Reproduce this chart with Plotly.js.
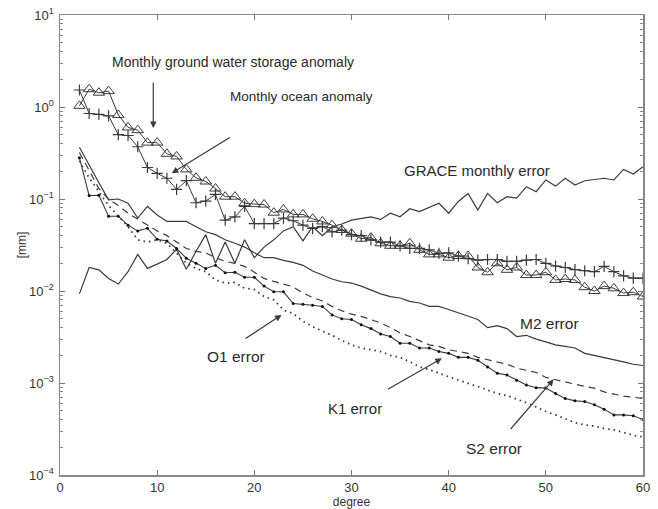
<!DOCTYPE html>
<html>
<head>
<meta charset="utf-8">
<script src="https://cdn.plot.ly/plotly-3.0.1.min.js"></script>
<style>
  html, body { margin: 0; padding: 0; background: #fff; }
  #chart { width: 658px; height: 509px; }
</style>
</head>
<body>
<div id="chart"></div>
<script>
// Spherical harmonic degree 2..60
const degree = [];
for (let n = 2; n <= 60; n++) degree.push(n);

// Degree amplitudes [mm]
const groundWater = [1.03, 1.56, 1.43, 1.49, 0.82, 0.60, 0.56, 0.41, 0.41, 0.31,
  0.29, 0.21, 0.17, 0.155, 0.13, 0.106, 0.106, 0.09, 0.088, 0.087,
  0.071, 0.077, 0.068, 0.068, 0.061, 0.057, 0.052, 0.046, 0.042, 0.037,
  0.038, 0.033, 0.031, 0.031, 0.033, 0.028, 0.025, 0.025, 0.023, 0.024,
  0.024, 0.018, 0.016, 0.020, 0.017, 0.018, 0.0149, 0.0149, 0.016, 0.0132,
  0.0135, 0.0132, 0.011, 0.010, 0.0113, 0.0107, 0.0095, 0.0097, 0.0087];

const ocean = [1.53, 0.85, 0.83, 0.80, 0.50, 0.49, 0.37, 0.22, 0.19, 0.168,
  0.127, 0.158, 0.091, 0.095, 0.112, 0.059, 0.064, 0.083, 0.054, 0.054,
  0.054, 0.062, 0.058, 0.052, 0.048, 0.050, 0.044, 0.046, 0.041, 0.040,
  0.036, 0.034, 0.034, 0.031, 0.029, 0.029, 0.028, 0.0257, 0.026, 0.024,
  0.0225, 0.0217, 0.022, 0.022, 0.021, 0.021, 0.0217, 0.022, 0.020, 0.0187,
  0.018, 0.0171, 0.0166, 0.0162, 0.0185, 0.0162, 0.0146, 0.0138, 0.0138];

const grace = [0.0093, 0.018, 0.017, 0.0137, 0.0119, 0.0162, 0.025, 0.0176, 0.0196, 0.022,
  0.0284, 0.0172, 0.027, 0.041, 0.020, 0.034, 0.020, 0.036, 0.023, 0.030,
  0.036, 0.045, 0.050, 0.035, 0.050, 0.040, 0.050, 0.0535, 0.059, 0.062,
  0.064, 0.060, 0.070, 0.064, 0.0785, 0.073, 0.081, 0.090, 0.070, 0.094,
  0.115, 0.076, 0.115, 0.091, 0.106, 0.102, 0.136, 0.12, 0.161, 0.138,
  0.168, 0.142, 0.158, 0.164, 0.168, 0.161, 0.21, 0.187, 0.224];

const m2 = [0.365, 0.23, 0.15, 0.098, 0.10, 0.09, 0.062, 0.083, 0.067, 0.057,
  0.057, 0.057, 0.050, 0.044, 0.041, 0.036, 0.033, 0.030, 0.026, 0.023,
  0.023, 0.0215, 0.0205, 0.019, 0.0165, 0.0148, 0.0135, 0.0126, 0.0122, 0.0113,
  0.0103, 0.0093, 0.0087, 0.0084, 0.0077, 0.0074, 0.0068, 0.0068, 0.0063, 0.0058,
  0.0053, 0.0049, 0.0040, 0.0042, 0.0039, 0.0032, 0.0033, 0.0030, 0.0028, 0.0026,
  0.0025, 0.0024, 0.0021, 0.0020, 0.0019, 0.0018, 0.0017, 0.0016, 0.00155];

const s2 = [0.32, 0.2, 0.13, 0.1, 0.085, 0.07, 0.06, 0.052, 0.045, 0.040,
  0.034, 0.029, 0.027, 0.026, 0.023, 0.021, 0.020, 0.0185, 0.016, 0.0137,
  0.0127, 0.0118, 0.0111, 0.0095, 0.0085, 0.0078, 0.0068, 0.0061, 0.0056, 0.0053,
  0.0049, 0.0045, 0.0040, 0.0035, 0.0032, 0.0029, 0.0026, 0.0025, 0.0023, 0.0022,
  0.0021, 0.0019, 0.0018, 0.0017, 0.0016, 0.00145, 0.00138, 0.0013, 0.00115, 0.00108,
  0.00103, 0.00097, 0.00092, 0.00088, 0.0008, 0.00076, 0.00072, 0.0007, 0.00068];

const k1 = [0.28, 0.109, 0.11, 0.065, 0.065, 0.052, 0.045, 0.048, 0.0365, 0.035,
  0.029, 0.0227, 0.020, 0.0176, 0.019, 0.0158, 0.016, 0.0141, 0.0141, 0.0113,
  0.0098, 0.0098, 0.0073, 0.0072, 0.0070, 0.0068, 0.0055, 0.0050, 0.0049, 0.0043,
  0.0039, 0.0034, 0.0032, 0.0027, 0.0027, 0.0024, 0.0024, 0.0022, 0.0021, 0.0019,
  0.0019, 0.00177, 0.00149, 0.00128, 0.00122, 0.00107, 0.00095, 0.00089, 0.00088, 0.00077,
  0.00068, 0.00064, 0.00063, 0.00058, 0.00052, 0.00045, 0.00045, 0.00044, 0.0004];

const o1 = [0.26, 0.17, 0.12, 0.085, 0.065, 0.05, 0.036, 0.034, 0.036, 0.033,
  0.0257, 0.020, 0.0176, 0.0162, 0.0132, 0.0122, 0.0124, 0.0107, 0.0104, 0.0087,
  0.0080, 0.0062, 0.0057, 0.0047, 0.0041, 0.0037, 0.0033, 0.0029, 0.0026, 0.0024,
  0.0023, 0.0022, 0.0020, 0.0019, 0.0017, 0.0015, 0.0014, 0.00127, 0.00117, 0.00108,
  0.00099, 0.00091, 0.00084, 0.00077, 0.00073, 0.00067, 0.00061, 0.00055, 0.00049, 0.00045,
  0.00041, 0.00037, 0.00035, 0.00034, 0.00032, 0.00031, 0.00029, 0.00027, 0.00026];

const xTicks = [0, 10, 20, 30, 40, 50, 60];
const yExponents = [-4, -3, -2, -1, 0, 1];

// decade ticks as 10^n with superscript exponents
const yTickVals = yExponents.map(e => Math.pow(10, e));
const yTickText = yExponents.map(e => '10<sup>' + (e < 0 ? '\u2212' + (-e) : e) + '</sup>');
// minor ticks at 2..9 within each decade
const yMinorVals = [];
yExponents.slice(0, -1).forEach(e => {
  for (let k = 2; k <= 9; k++) yMinorVals.push(k * Math.pow(10, e));
});

const ink = '#3a3a3a';
const family = 'Liberation Sans, Arial, sans-serif';
const tickFont = { family: family, size: 13, color: '#333' };

const traces = [
  { x: degree, y: groundWater, mode: 'lines+markers',
    line: { color: ink, width: 1 },
    marker: { symbol: 'triangle-up-open', size: 10, color: ink, line: { width: 1, color: ink } } },
  { x: degree, y: ocean, mode: 'lines+markers',
    line: { color: ink, width: 1 },
    marker: { symbol: 'cross-thin-open', size: 8, color: ink, line: { width: 1.2, color: ink } } },
  { x: degree, y: grace, mode: 'lines', line: { color: ink, width: 1.2 } },
  { x: degree, y: m2, mode: 'lines', line: { color: ink, width: 1.2 } },
  { x: degree, y: s2, mode: 'lines', line: { color: ink, width: 1.2, dash: '7px,5px' } },
  { x: degree, y: k1, mode: 'lines+markers', line: { color: ink, width: 1.1 },
    marker: { symbol: 'circle', size: 3, color: '#111' } },
  { x: degree, y: o1, mode: 'lines', line: { color: ink, width: 1.8, dash: '1.5px,4px' } }
];

function label(text, x, y, size) {
  return { text: text, x: x, y: y, xref: 'x', yref: 'y', showarrow: false,
    xanchor: 'center', yanchor: 'middle',
    font: { family: family, size: size, color: '#2a2a2a' } };
}
function arrow(x, y, ax, ay) {
  return { text: ' ', x: x, y: y, xref: 'x', yref: 'y', showarrow: true,
    ax: ax, ay: ay, arrowhead: 2, arrowsize: 1.1, arrowwidth: 1.2, arrowcolor: ink,
    standoff: 0, startstandoff: 0, font: { size: 2 } };
}

const layout = {
  width: 658, height: 509,
  margin: { l: 60, r: 15, t: 15, b: 34 },
  paper_bgcolor: '#fff', plot_bgcolor: '#fff',
  showlegend: false,
  font: { family: family, size: 13, color: '#333' },
  xaxis: {
    range: [0, 60], tickvals: xTicks, ticktext: xTicks.map(String),
    ticks: 'inside', ticklen: 5, tickcolor: '#777', mirror: 'ticks',
    showline: true, linecolor: '#888', linewidth: 1.5, showgrid: false, zeroline: false,
    tickfont: tickFont,
    title: { text: 'degree', font: { family: family, size: 12, color: '#333' }, standoff: 2 }
  },
  yaxis: {
    type: 'log', range: [-4, 1], tickvals: yTickVals, ticktext: yTickText,
    ticks: 'inside', ticklen: 5, tickcolor: '#777', mirror: 'ticks',
    minor: { tickmode: 'array', tickvals: yMinorVals, ticks: 'inside', ticklen: 3, tickcolor: '#888' },
    showline: true, linecolor: '#888', linewidth: 1.5, showgrid: false, zeroline: false,
    tickfont: tickFont, ticklabelstandoff: 2,
    title: { text: '[mm]', font: { family: family, size: 12, color: '#333' }, standoff: 0 }
  },
  annotations: [
    label('Monthly ground water storage anomaly', 17.8, 0.489, 14),
    label('Monthly ocean anomaly', 24.9, 0.109, 13.5),
    label('GRACE monthly error', 42.9, -0.685, 15),
    label('M2 error', 50.4, -2.348, 15.5),
    label('O1 error', 18.1, -2.717, 15.5),
    label('K1 error', 30.4, -3.272, 15),
    label('S2 error', 44.7, -3.707, 15.5),
    arrow(9.6, -0.228, 0, -48),
    arrow(11.5, -0.72, 60, -37),
    arrow(22.8, -2.26, -38, 25),
    arrow(39.3, -2.732, -56, 32),
    arrow(50.8, -2.96, -45, 52)
  ]
};

Plotly.newPlot('chart', traces, layout, { staticPlot: true, displayModeBar: false });
</script>
</body>
</html>
